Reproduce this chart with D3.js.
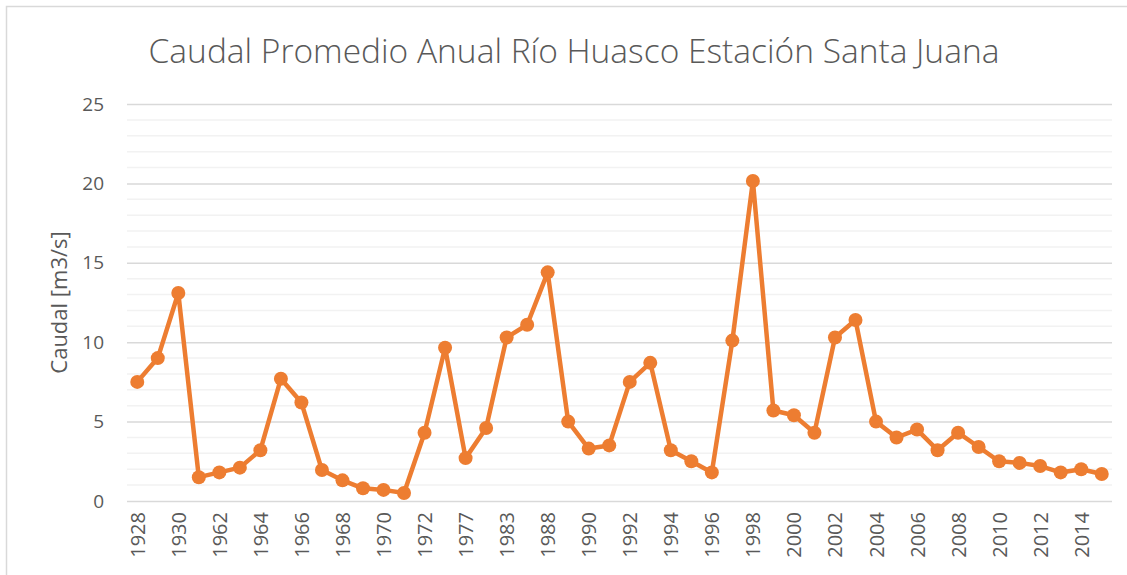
<!DOCTYPE html>
<html>
<head>
<meta charset="utf-8">
<script src="https://cdn.jsdelivr.net/npm/d3@7"></script>
<style>
  body { margin: 0; background: #fff; }
  text { font-family: "Open Sans", "Noto Sans", sans-serif; }
</style>
</head>
<body>
<svg id="Graph"></svg>
<script>
// años (solo se rotulan los pares de la serie)
const years = ["1928", "1929", "1930", "1961", "1962", "1963", "1964", "1965", "1966", "1967",
  "1968", "1969", "1970", "1971", "1972", "1973", "1977", "1980", "1983", "1985",
  "1988", "1989", "1990", "1991", "1992", "1993", "1994", "1995", "1996", "1997",
  "1998", "1999", "2000", "2001", "2002", "2003", "2004", "2005", "2006", "2007",
  "2008", "2009", "2010", "2011", "2012", "2013", "2014", "2015"];
// caudal promedio anual [m3/s]
const caudal = [7.5, 9.0, 13.1, 1.5, 1.8, 2.1, 3.2, 7.7, 6.2, 1.95,
  1.3, 0.8, 0.7, 0.5, 4.3, 9.65, 2.7, 4.6, 10.3, 11.1,
  14.4, 5.0, 3.3, 3.5, 7.5, 8.7, 3.2, 2.5, 1.8, 10.1,
  20.15, 5.7, 5.4, 4.3, 10.3, 11.4, 5.0, 4.0, 4.5, 3.2,
  4.3, 3.4, 2.5, 2.4, 2.2, 1.8, 2.0, 1.7];
const yTicks = [0, 5, 10, 15, 20, 25];
const yMinor = d3.range(0, 26, 1);

const w = 1127;
const h = 575;
const pLeft = 127, pRight = 1112, pTop = 104, pBottom = 501;

let svg = d3.select("#Graph")
  .attr("width", w)
  .attr("height", h);

// borde del gráfico
svg.append("rect")
  .attr("x", 6.5).attr("y", 6.5)
  .attr("width", w + 10).attr("height", h + 10)
  .attr("fill", "none")
  .attr("stroke", "#d9d9d9")
  .attr("stroke-width", 1.5);

// escalas
const xScale = d3.scalePoint()
  .domain(years)
  .range([pLeft, pRight])
  .padding(0.5);
const yScale = d3.scaleLinear()
  .domain([0, 25])
  .range([pBottom, pTop]);

// líneas de división secundarias
svg.append("g")
  .selectAll("line")
  .data(yMinor.filter(d => d % 5 !== 0))
  .enter()
  .append("line")
  .attr("x1", pLeft).attr("x2", pRight)
  .attr("y1", d => yScale(d)).attr("y2", d => yScale(d))
  .attr("stroke", "#f2f2f2")
  .attr("stroke-width", 1.5);

// eje Y con líneas principales
const yAxis = d3.axisLeft(yScale)
  .tickValues(yTicks)
  .tickSize(-(pRight - pLeft))
  .tickPadding(23);
svg.append("g")
  .attr("transform", "translate(" + pLeft + ",0)")
  .call(yAxis)
  .call(g => g.select(".domain").remove())
  .call(g => g.selectAll(".tick line").attr("stroke", "#d9d9d9").attr("stroke-width", 1.5))
  .call(g => g.selectAll(".tick text")
    .attr("fill", "#595959")
    .attr("font-size", "19px")
    .attr("font-family", "'Open Sans', sans-serif"));

// eje X
const xAxis = d3.axisBottom(xScale)
  .tickValues(years.filter((d, i) => i % 2 === 0))
  .tickSize(0)
  .tickPadding(0);
svg.append("g")
  .attr("transform", "translate(0," + pBottom + ")")
  .call(xAxis)
  .call(g => g.select(".domain").remove())
  .call(g => g.selectAll(".tick text")
    .attr("fill", "#595959")
    .attr("font-size", "20px")
    .attr("font-family", "'Open Sans', sans-serif")
    .attr("transform", "rotate(-90)")
    .attr("text-anchor", "end")
    .attr("x", -11)
    .attr("y", 0)
    .attr("dy", "0.35em"));

// línea de la serie
const line = d3.line()
  .x((d, i) => xScale(years[i]))
  .y(d => yScale(d));
svg.append("path")
  .datum(caudal)
  .attr("d", line)
  .attr("fill", "none")
  .attr("stroke", "#ED7D31")
  .attr("stroke-width", 4.5)
  .attr("stroke-linejoin", "round");

// marcadores
svg.append("g")
  .selectAll("circle")
  .data(caudal)
  .enter()
  .append("circle")
  .attr("cx", (d, i) => xScale(years[i]))
  .attr("cy", d => yScale(d))
  .attr("r", 7)
  .attr("fill", "#ED7D31");

// título
svg.append("text")
  .text("Caudal Promedio Anual Río Huasco Estación Santa Juana")
  .attr("x", 574)
  .attr("y", 63)
  .attr("text-anchor", "middle")
  .attr("font-size", "33.5px")
  .attr("font-weight", 300)
  .attr("fill", "#595959");

// título del eje Y
svg.append("text")
  .text("Caudal [m3/s]")
  .attr("transform", "rotate(-90)")
  .attr("x", -(pTop + pBottom) / 2)
  .attr("y", 67)
  .attr("text-anchor", "middle")
  .attr("font-size", "22px")
  .attr("fill", "#595959");
</script>
</body>
</html>
